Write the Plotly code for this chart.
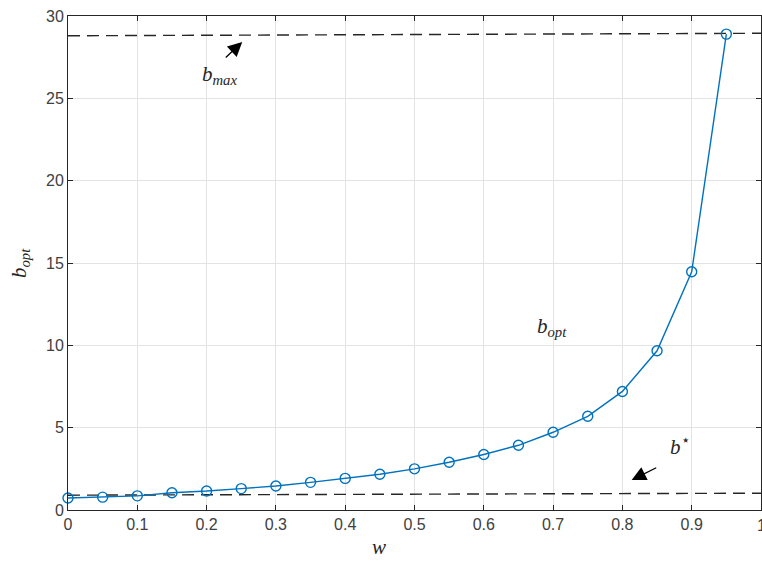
import plotly.graph_objects as go

# data
w = [0, 0.05, 0.1, 0.15, 0.2, 0.25, 0.3, 0.35, 0.4, 0.45,
     0.5, 0.55, 0.6, 0.65, 0.7, 0.75, 0.8, 0.85, 0.9, 0.95]
b_opt = [0.73, 0.78, 0.86, 1.05, 1.15, 1.3, 1.46, 1.68, 1.92, 2.17,
         2.5, 2.9, 3.37, 3.93, 4.72, 5.69, 7.2, 9.67, 14.47, 28.9]
w_line = [0, 1]
b_max = [28.8, 28.95]
b_star = [0.9, 1.02]

x_ticks = [0, 0.1, 0.2, 0.3, 0.4, 0.5, 0.6, 0.7, 0.8, 0.9]
x_labels = ['0', '0.1', '0.2', '0.3', '0.4', '0.5', '0.6', '0.7', '0.8', '0.9']
y_ticks = [0, 5, 10, 15, 20, 25, 30]

blue = '#0072BD'
ink = '#262626'
serif = 'Liberation Serif'
tick_font = dict(family='Liberation Sans', size=16, color='#404040')

fig = go.Figure()

fig.add_trace(go.Scatter(
    x=w_line, y=b_max, mode='lines',
    line=dict(color=ink, width=1.4, dash='12px,7px'),
    showlegend=False, hoverinfo='skip'
))
fig.add_trace(go.Scatter(
    x=w_line, y=b_star, mode='lines',
    line=dict(color=ink, width=1.4, dash='12px,7px'),
    showlegend=False, hoverinfo='skip'
))
fig.add_trace(go.Scatter(
    x=w, y=b_opt, mode='lines+markers',
    line=dict(color=blue, width=1.4),
    marker=dict(symbol='circle-open', size=10, color=blue,
                line=dict(width=1.4, color=blue)),
    showlegend=False, cliponaxis=False
))

axis_common = dict(
    showline=True, linecolor=ink, linewidth=1, mirror='ticks',
    ticks='inside', ticklen=5, tickcolor=ink,
    showgrid=True, gridcolor='#e3e3e3', gridwidth=1,
    zeroline=False, automargin=False,
    tickfont=tick_font,
)

fig.update_layout(
    width=762, height=561,
    margin=dict(l=68, r=1, t=16, b=51),
    paper_bgcolor='white', plot_bgcolor='white',
    xaxis=dict(range=[0, 1], tickvals=x_ticks + [1],
               ticktext=x_labels + [''], **axis_common),
    yaxis=dict(range=[0, 30], tickvals=y_ticks, **axis_common),
)

# the last x tick label sits on the window edge and is cut in half
fig.add_annotation(text='1', x=1, y=0, yref='paper', yanchor='top',
                   yshift=-5, showarrow=False, font=tick_font)

# axis titles
fig.add_annotation(text='<i>w</i>', xref='paper', yref='paper',
                   x=0.449, y=0, yanchor='middle', yshift=-37, showarrow=False,
                   font=dict(family=serif, size=21, color=ink))
fig.add_annotation(text='<i>b<sub>opt</sub></i>', xref='paper', yref='paper',
                   x=0, y=0.5, xanchor='center', yanchor='middle', xshift=-48,
                   textangle=-90, showarrow=False,
                   font=dict(family=serif, size=21, color=ink))

# labels inside plot
fig.add_annotation(text='<i>b<sub>max</sub></i>', x=0.218, y=26.4,
                   showarrow=False, font=dict(family=serif, size=21, color=ink))
fig.add_annotation(text='<i>b<sub>opt</sub></i>', x=0.698, y=11.1,
                   showarrow=False, font=dict(family=serif, size=21, color=ink))
fig.add_annotation(text='<i>b</i><sup>⋆</sup>', x=0.883, y=3.9,
                   showarrow=False, font=dict(family=serif, size=21, color=ink))

# arrows
fig.add_annotation(text='', x=0.2514, y=28.42, ax=0.2255, ay=27.4,
                   axref='x', ayref='y', showarrow=True,
                   arrowhead=2, arrowsize=2.2, arrowwidth=1.3, arrowcolor='black')
fig.add_annotation(text='', x=0.8134, y=1.82, ax=0.851, ay=2.61,
                   axref='x', ayref='y', showarrow=True,
                   arrowhead=2, arrowsize=2.2, arrowwidth=1.3, arrowcolor='black')

# drop the default page margin so the figure sits at the window corner
fig.write_html("out.html",
               config={"displayModeBar": False},
               post_script="document.body.style.margin='0';"
                           "document.body.style.overflow='hidden';")
